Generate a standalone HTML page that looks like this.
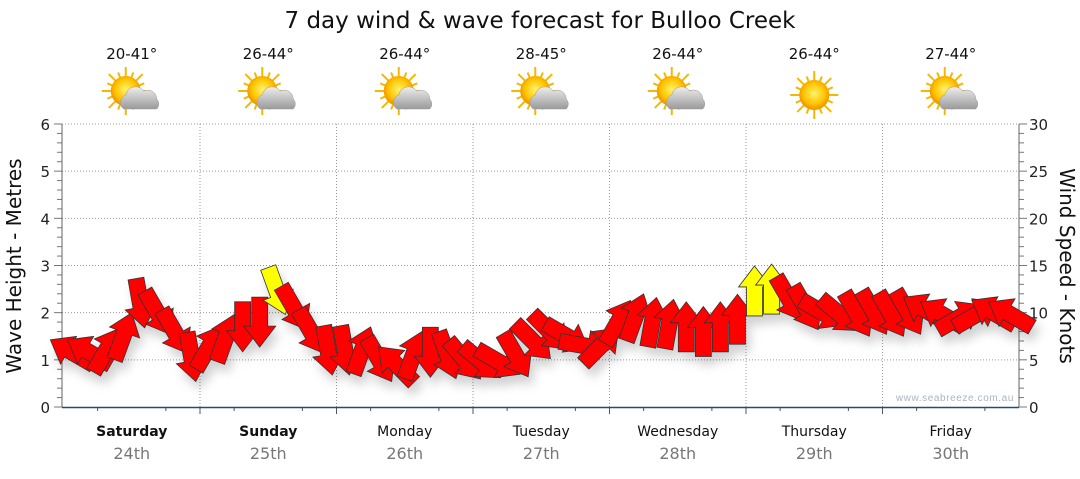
<!DOCTYPE html>
<html><head><meta charset="utf-8"><style>
body{margin:0;background:#fff;width:1080px;height:475px;overflow:hidden;font-family:"DejaVu Sans",sans-serif}
</style></head><body>
<svg id="chart" width="1080" height="475" xmlns="http://www.w3.org/2000/svg" font-family="DejaVu Sans, Liberation Sans, sans-serif">
<defs>
<filter id="sh" x="-50%" y="-50%" width="200%" height="200%"><feDropShadow dx="4" dy="8" stdDeviation="5" flood-color="#000" flood-opacity="0.18"/></filter>
<radialGradient id="sun" cx="50%" cy="45%" r="50%"><stop offset="0" stop-color="#fff36a"/><stop offset="0.7" stop-color="#ffc400"/><stop offset="1" stop-color="#f29a00"/></radialGradient>
<linearGradient id="cloud" x1="0" y1="0" x2="0" y2="1"><stop offset="0" stop-color="#eee"/><stop offset="1" stop-color="#9a9a9a"/></linearGradient>
</defs>
<text x="540" y="28" text-anchor="middle" font-size="23" fill="#111">7 day wind &amp; wave forecast for Bulloo Creek</text>
<g id="grid"></g>
<g id="axes"></g>
<g id="marks" filter="url(#sh)"></g>
<text transform="translate(21,266) rotate(-90)" text-anchor="middle" font-size="20" fill="#111">Wave Height - Metres</text>
<text transform="translate(1060,266) rotate(90)" text-anchor="middle" font-size="20" fill="#111">Wind Speed - Knots</text>
<text x="1014" y="401" text-anchor="end" font-size="10" fill="#a8b4c4" font-family="Liberation Sans, sans-serif" letter-spacing="0.6">www.seabreeze.com.au</text>
</svg>
<script>
const days=["Saturday","Sunday","Monday","Tuesday","Wednesday","Thursday","Friday"];
const dates=["24th","25th","26th","27th","28th","29th","30th"];
const temps=["20-41°","26-44°","26-44°","28-45°","26-44°","26-44°","27-44°"];
const sunny=[false,false,false,false,false,true,false];
const waveTicks=[0,1,2,3,4,5,6];
const windTicks=[0,5,10,15,20,25,30];
const windKnots=[5.8,5.8,6,7.5,11,10,8,5.3, 6.3,7.3,8.5,9,12.3,10.5,8,6, 6,6,5,4.5,5.5,5.8,5.5,5, 4.8,4.8,5.5,7,8,7.5,6.5,6.5, 9,9.5,9,8.8,8.5,8,8.5,9.3, 12.3,12.5,11.5,10.5,10,9.8,9.8,10, 9.8,10,10.3,9.8,9.5,9.8,10,9.8];
const windDir=[300,300,30,20,170,150,150,170, 30,20,180,180,160,150,150,170, 170,20,150,315,20,180,160,140, 130,120,150,135,135,120,100,45, 30,20,10,10,0,0,0,0, 0,0,150,150,120,130,150,150, 150,150,300,300,60,60,300,300];
const X0=63.5,DW=136.5,Y0=407,PXM=47.17;
const ns="http://www.w3.org/2000/svg";
const svg=document.getElementById('chart');
function mk(t,a,p){const e=document.createElementNS(ns,t);for(const k in a)e.setAttribute(k,a[k]);(p||svg).appendChild(e);return e;}
const yW=m=>Y0-m*PXM, yK=k=>Y0-k/5*PXM, xT=i=>X0+i*DW/8+DW/16;
const grid=document.getElementById('grid'),axes=document.getElementById('axes'),marks=document.getElementById('marks');
waveTicks.forEach(v=>{if(v>0){const l=mk('line',{x1:62,x2:1019,y1:yW(v),y2:yW(v),stroke:'#999','stroke-dasharray':'1,2'},grid);}
 const t=mk('text',{x:50,y:yW(v)+6,'text-anchor':'end','font-size':15,fill:'#222'},axes);t.textContent=v;
 });
windTicks.forEach(v=>{const t=mk('text',{x:1029,y:yK(v)+6,'font-size':15,fill:'#222'},axes);t.textContent=v;
 });
for(let i=0;i<=30;i++){const y=Y0-i*PXM/5;mk('line',{x1:i%5?57:54,x2:62,y1:y,y2:y,stroke:'#777'},axes);mk('line',{x1:1019,x2:i%5?1024:1027,y1:y,y2:y,stroke:'#777'},axes);}
mk('line',{x1:62,x2:62,y1:124,y2:407,stroke:'#666'},axes);
mk('line',{x1:1019,x2:1019,y1:124,y2:407,stroke:'#666'},axes);
days.forEach((d,i)=>{const cx=X0+i*DW+DW/2;
 if(i>0){const l=mk('line',{x1:X0+i*DW,x2:X0+i*DW,y1:124,y2:407,stroke:'#999','stroke-dasharray':'1,2'},grid);
  mk('line',{x1:X0+i*DW,x2:X0+i*DW,y1:407,y2:414,stroke:'#555'},axes);}
 mk('line',{x1:cx-DW/4,x2:cx-DW/4,y1:407,y2:411,stroke:'#555'},axes);mk('line',{x1:cx+DW/4,x2:cx+DW/4,y1:407,y2:411,stroke:'#555'},axes);
 const t=mk('text',{x:cx,y:436,'text-anchor':'middle','font-size':14,fill:'#111','font-weight':i<2?'bold':'normal'});t.textContent=d;
 
 const t2=mk('text',{x:cx,y:459,'text-anchor':'middle','font-size':16,fill:'#777'});t2.textContent=dates[i];
 
 const t3=mk('text',{x:cx,y:59,'text-anchor':'middle','font-size':15,fill:'#111'});t3.textContent=temps[i];
 
 const g=mk('g',{transform:`translate(${cx},95)`});
 
 const sx=sunny[i]?0:-6,sy=sunny[i]?0:-4;
 for(let r=0;r<16;r++){const a=r*Math.PI/8;mk('line',{x1:sx+Math.cos(a)*14,y1:sy+Math.sin(a)*14,x2:sx+Math.cos(a)*(r%2?20:24),y2:sy+Math.sin(a)*(r%2?20:24),stroke:'#f5b800','stroke-width':2},g);}
 mk('circle',{cx:sx,cy:sy,r:15,fill:'url(#sun)'},g);
 if(!sunny[i]){mk('path',{d:'M-8,14 a8,8 0 0 1 2,-14 a10,10 0 0 1 18,-4 a9,9 0 0 1 13,8 a7,7 0 0 1 0,10 z',fill:'url(#cloud)',stroke:'#999','stroke-width':0.5},g);}
});
mk('line',{x1:62,x2:1019,y1:407.5,y2:407.5,stroke:'#1d4e7a','stroke-width':1.5},axes);
windKnots.forEach((k,i)=>{
 const a=mk('polygon',{points:'0,-25 16,-4 8,-4 8,25 -8,25 -8,-4 -16,-4',fill:k>=12?'#ffff00':'#ff0000',stroke:'#333','stroke-width':0.8,
  transform:`translate(${xT(i)},${yK(k)}) rotate(${windDir[i]})`},marks);
 
 
});
</script>
</body></html>
